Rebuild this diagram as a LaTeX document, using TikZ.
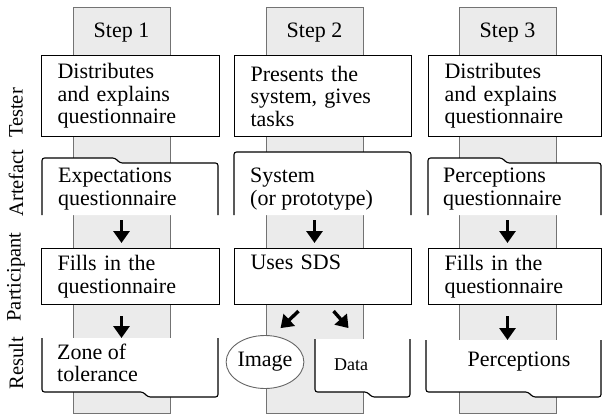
\documentclass[tikz,border=0pt]{standalone}
\usepackage{fontspec}
\setmainfont{Liberation Serif}
\usetikzlibrary{arrows.meta,shapes.geometric}

\newcommand\boxfont{\fontsize{22}{22.5}\selectfont}
\newcommand\rowfont{\fontsize{20.5}{22}\selectfont}

\begin{document}
\begin{tikzpicture}[x=1pt,y=-1pt,
  lane/.style={draw=black!55,fill=black!8,line width=0.9pt},
  taskbox/.style={draw,line width=1.1pt,fill=white,anchor=north west,
    minimum height=81pt,inner xsep=16pt,align=left,font=\boxfont},
  docline/.style={line width=1.1pt,fill=white,rounded corners=2.5pt},
  doctext/.style={anchor=west,align=left,inner sep=0pt,font=\boxfont},
  rowlabel/.style={rotate=90,font=\rowfont},
  flow/.style={line width=3.4pt,-{Triangle[width=16pt,length=12pt]}}]
\useasboundingbox (0,0) rectangle (602,417);

% step lanes
\foreach \x/\n in {73/1,266/2,459/3} {
  \draw[lane] (\x,7) rectangle ++(97,406);
  \node[font=\boxfont] (step\n) at (\x+48.5,33) {Step \n};
}

% row labels
\node[rowlabel] (ltester) at (16,113) {Tester};
\node[rowlabel] (lartefact) at (16,183) {Artefact};
\node[rowlabel] (lpart) at (16,277) {Participant};
\node[rowlabel] (lresult) at (16,363) {Result};

% tester row
\node[taskbox,minimum width=178pt,text width=146pt] (t1) at (41,55)
  {Distributes\\and explains\\questionnaire};
\node[taskbox,minimum width=177pt,text width=145pt] (t2) at (234,55)
  {Presents the\\system, gives\\tasks};
\node[taskbox,minimum width=173pt,text width=141pt] (t3) at (428,55)
  {Distributes\\and explains\\questionnaire};

% artefact row
\filldraw[docline] (42,215) -- (42,158) -- (115,158) -- (120,163) -- (218,163) -- (218,215);
\filldraw[docline] (234,215) -- (234,152) -- (411,152) -- (411,215);
\filldraw[docline] (428,215) -- (428,158) -- (502,158) -- (507,163) -- (601,163) -- (601,215);
\node[doctext] (a1) at (58,189) {Expectations\\questionnaire};
\node[doctext] (a2) at (250,189) {System\\(or prototype)};
\node[doctext] (a3) at (443,189) {Perceptions\\questionnaire};
\coordinate (a1end) at (121.5,215);
\coordinate (a2end) at (314.5,215);
\coordinate (a3end) at (507.5,215);

% participant row
\node[taskbox,minimum width=178pt,text width=146pt,minimum height=56pt] (p1) at (41,248)
  {Fills in the\\questionnaire};
\node[taskbox,minimum width=177pt,text width=145pt,minimum height=56pt] (p2) at (234,248)
  {Uses SDS\\\strut};
\node[taskbox,minimum width=173pt,text width=141pt,minimum height=56pt] (p3) at (428,248)
  {Fills in the\\questionnaire};

% result row
\filldraw[docline] (42,338) -- (42,392) -- (143,392) -- (148,397) -- (218,397) -- (218,338);
\filldraw[docline] (315,339) -- (315,392) -- (367,392) -- (372,397) -- (410,397) -- (410,339);
\filldraw[docline] (426,340) -- (426,392) -- (528,392) -- (533,397) -- (601,397) -- (601,340);
\node[doctext] (r1) at (57,363) {Zone of\\tolerance};
\node[draw=black!60,fill=white,ellipse,line width=0.9pt,inner sep=0pt,
  minimum width=65pt,minimum height=53pt,font=\boxfont] (img) at (265,362) {Image};
\node[font=\fontsize{18}{20}\selectfont] (data) at (351,365) {Data};
\node[font=\boxfont] (r3) at (519,362) {Perceptions};
\coordinate (r1top) at (121.5,338);
\coordinate (r3top) at (507.5,340);

% arrows
\draw[flow,shorten <=5pt,shorten >=5pt] (a1end) -- (p1.north -| a1end);
\draw[flow,shorten <=5pt,shorten >=5pt] (a2end) -- (p2.north -| a2end);
\draw[flow,shorten <=5pt,shorten >=5pt] (a3end) -- (p3.north -| a3end);
\draw[flow,shorten <=11pt] (p1.south -| r1top) -- (r1top);
\draw[flow,shorten <=11pt] (p3.south -| r3top) -- (r3top);
\draw[flow] ([xshift=-24.5pt,yshift=-6pt]p2.south) -- ([xshift=-42.5pt,yshift=-23pt]p2.south);
\draw[flow] ([xshift=10.5pt,yshift=-6pt]p2.south) -- ([xshift=25.5pt,yshift=-23pt]p2.south);
\end{tikzpicture}
\end{document}
